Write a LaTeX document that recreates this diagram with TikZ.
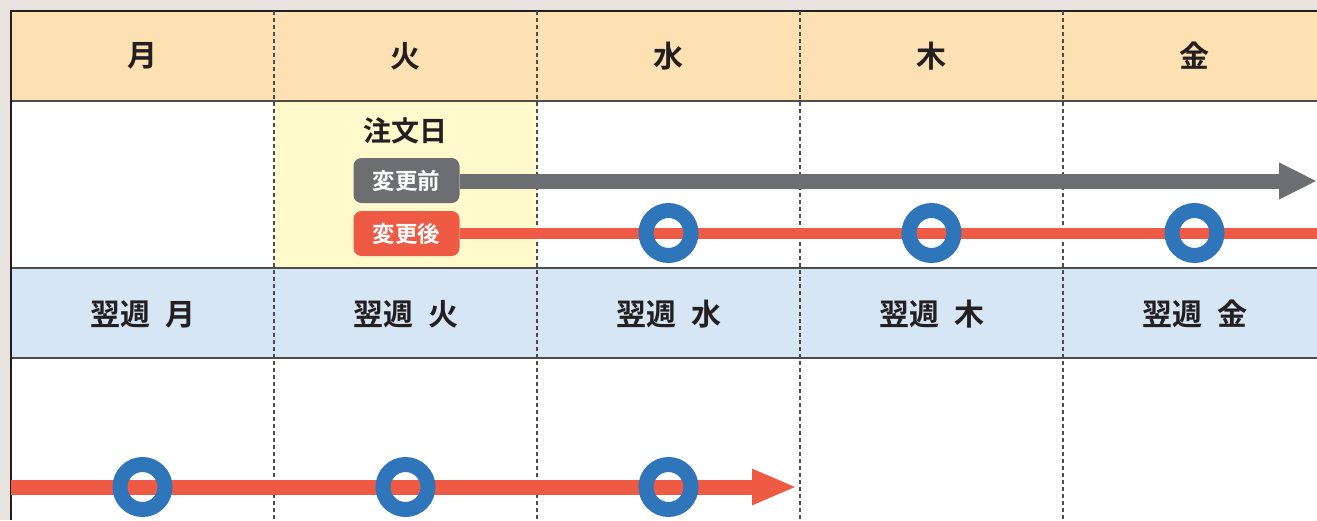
\documentclass[tikz,border=0pt]{standalone}
\usepackage{fontspec}
\setmainfont{Noto Sans CJK JP}[BoldFont={Noto Sans CJK JP Bold}]
\usetikzlibrary{arrows.meta}

\definecolor{hdr}{HTML}{FDE1B3}
\definecolor{nxt}{HTML}{D6E6F4}
\definecolor{ord}{HTML}{FFF9CC}
\definecolor{bg}{HTML}{E8E3DE}
\definecolor{gry}{HTML}{6D6E71}
\definecolor{rd}{HTML}{EF5A45}
\definecolor{bl}{HTML}{2E75BA}
\definecolor{ink}{HTML}{231F20}

\begin{document}
\begin{tikzpicture}[x=1pt,y=-1pt,
        day/.style={text=ink, font=\fontsize{30}{30}\selectfont\bfseries},
        tag/.style={rounded corners=8pt, inner sep=0pt,
                        minimum width=106pt, minimum height=45pt,
                        text=white, font=\fontsize{22.5}{22.5}\selectfont\bfseries},
        ring/.style={circle, draw=bl, line width=15pt,
                        inner sep=0pt, minimum size=45pt},
        sep/.style={ink!80, line width=1.3pt},
        col/.style={ink!80, line width=1.1pt, dash pattern=on 4pt off 3pt}]
    \useasboundingbox (0,0) rectangle (1317,520);
    \fill[bg] (0,0) rectangle (1317,520);
    % rows
    \fill[hdr] (11,11) rectangle (1317,101);
    \fill[white] (11,101) rectangle (1317,268);
    \fill[ord] (274,101) rectangle (537,268);
    \fill[nxt] (11,268) rectangle (1317,358);
    \fill[white] (11,358) rectangle (1317,520);
    \foreach \y in {101,268,358}
        \draw[sep] (11,\y) -- (1317,\y);
    \draw[ink, line width=2pt] (1317,11) -- (11,11) -- (11,520);
    \foreach \x in {274,537,800,1063}
        \draw[col] (\x,11) -- (\x,520);
    % day names
    \foreach \d [count=\i] in {月,火,水,木,金} {
        \node[day] (hd\i) at (142.5+263*\i-263,56) {\d};
        \node[day] (nx\i) at (142.5+263*\i-263,314) {翌週\hspace{0.5em}\d};
    }
    \node[day, font=\fontsize{28}{28}\selectfont\bfseries] (order) at (405,131) {注文日};
    \node[tag, fill=gry] (before) at (406.5,180.5) {変更前};
    \node[tag, fill=rd] (after) at (406.5,233.5) {変更後};
    \coordinate (gend) at (1317,181);
    \coordinate (rend) at (1317,233);
    \coordinate (bstart) at (11,487);
    \coordinate (bend) at (797,487);
    \draw[gry, line width=15pt, -{Triangle[length=38pt,width=34pt]}]
        (before.east |- gend) -- (gend);
    \draw[rd, line width=11pt] (after.east |- rend) -- (rend);
    \draw[rd, line width=15pt, -{Triangle[length=45pt,width=33pt]}]
        (bstart) -- (bend);
    % delivery days
    \foreach \x [count=\i] in {668.5,931.5,1194.5}
        \node[ring] (ra\i) at (\x,233) {};
    \foreach \x [count=\i] in {142.5,405.5,668.5}
        \node[ring] (rb\i) at (\x,487) {};
\end{tikzpicture}
\end{document}
